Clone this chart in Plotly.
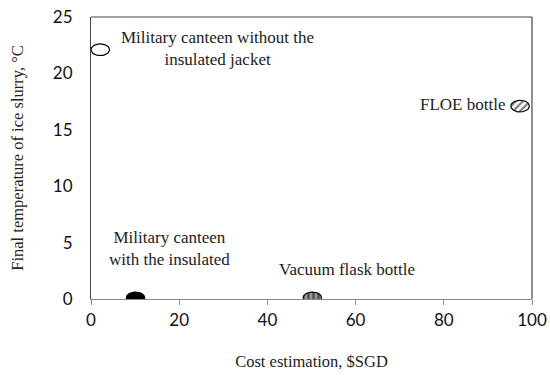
import numpy as np
import plotly.graph_objects as go

# Data
names = ["Military canteen without the insulated jacket",
         "Military canteen with the insulated",
         "Vacuum flask bottle",
         "FLOE bottle"]
cost = [2.1, 10.1, 50.2, 97.3]
temp = [22.1, 0.1, 0.1, 17.1]
x_ticks = [0, 20, 40, 60, 80, 100]
y_ticks = [0, 5, 10, 15, 20, 25]

# marker styles
fills = ["white", "black", "#999999", "white"]
patterns = ["", "", "|", "/"]

# Ellipse half-size in data units (x: 100 per 441px, y: 25 per 282px)
rx, ry = 2.1, 0.52
t = np.linspace(0, 2 * np.pi, 60)

fig = go.Figure()
for i in range(len(cost)):
    ex = cost[i] + rx * np.cos(t)
    ey = temp[i] + ry * np.sin(t)
    kw = dict(fill="toself", fillcolor=fills[i])
    if patterns[i]:
        kw["fillpattern"] = dict(shape=patterns[i], fgcolor="black",
                                 bgcolor=fills[i], size=5, solidity=0.45)
    fig.add_trace(go.Scatter(x=ex, y=ey, mode="lines",
                             line=dict(color="black", width=1.2),
                             hoverinfo="skip", showlegend=False,
                             cliponaxis=False, **kw))

serif = "Liberation Serif"
fs = 17
ann = [
    dict(x=cost[0] + 4.2, y=temp[0] + 0.1, text="Military canteen without the<br>insulated jacket",
         xanchor="left", yanchor="middle", align="center"),
    dict(x=cost[1] + 7.8, y=temp[1] + 2.4, text="Military canteen<br>with the insulated",
         xanchor="center", yanchor="bottom", align="center"),
    dict(x=cost[2] + 7.8, y=temp[2] + 1.5, text="Vacuum flask bottle",
         xanchor="center", yanchor="bottom", align="center"),
    dict(x=cost[3] - 3.0, y=temp[3] + 0.1, text="FLOE bottle",
         xanchor="right", yanchor="middle", align="right"),
]
for a in ann:
    fig.add_annotation(xref="x", yref="y", showarrow=False,
                       font=dict(family=serif, size=fs, color="#222"), **a)

fig.update_layout(
    width=550, height=378,
    margin=dict(l=91, r=18, t=17, b=79),
    plot_bgcolor="white", paper_bgcolor="white",
    showlegend=False,
)
fig.update_xaxes(range=[0, 100], tickvals=x_ticks, showgrid=False, zeroline=False,
                 automargin=False,
                 showline=True, linecolor="#888", linewidth=1.2, mirror=False,
                 ticks="outside", ticklen=5, tickcolor="#888",
                 tickfont=dict(family="Lato", size=17, color="#111"),
                 title=dict(text="Cost estimation, $SGD", standoff=26,
                            font=dict(family=serif, size=16.5, color="#222")))
fig.update_yaxes(range=[0, 25], tickvals=y_ticks, showgrid=False, zeroline=False,
                 automargin=False,
                 showline=True, linecolor="#444", linewidth=1.2,
                 ticks="", ticklabelstandoff=14,
                 tickfont=dict(family="Lato", size=17, color="#111"),
                 title=dict(text="Final temperature of ice slurry, °C", standoff=24,
                            font=dict(family=serif, size=16.5, color="#222")))
# top and right frame lines
fig.add_shape(type="line", xref="paper", yref="paper", x0=0, x1=1, y0=1, y1=1,
              line=dict(color="#444", width=1.2))
fig.add_shape(type="line", xref="paper", yref="paper", x0=1, x1=1, y0=0, y1=1,
              line=dict(color="#444", width=1.2))

fig.write_html("out.html", config={"displayModeBar": False},
               post_script="document.body.style.margin='0';document.body.style.overflow='hidden';")
